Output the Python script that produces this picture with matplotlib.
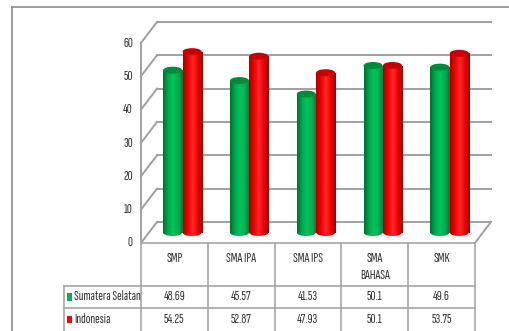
import numpy as np
import matplotlib
matplotlib.use('Agg')
import matplotlib.pyplot as plt
from matplotlib.patches import Rectangle, Ellipse
from matplotlib.colors import LinearSegmentedColormap

plt.rcParams['font.family'] = ['Sofia Sans Extra Condensed', 'Roboto Condensed', 'DejaVu Sans']

# data
categories = ['SMP', 'SMA IPA', 'SMA IPS', 'SMA\nBAHASA', 'SMK']
series_names = ['Sumatera Selatan', 'Indonesia']
sumsel = [48.69, 45.57, 41.53, 50.1, 49.6]
indonesia = [54.25, 52.87, 47.93, 50.1, 53.75]
sumsel_labels = ['48.69', '45.57', '41.53', '50.1', '49.6']
indonesia_labels = ['54.25', '52.87', '47.93', '50.1', '53.75']
y_ticks = [0, 10, 20, 30, 40, 50, 60]

colors = ['#00B050', '#FF0000']
top_colors = ['#008A3C', '#C80000']
cmaps = [
    LinearSegmentedColormap.from_list('g', ['#006E2E', '#00A84C', '#00C45C', '#00B050', '#007A34']),
    LinearSegmentedColormap.from_list('r', ['#A80000', '#F00000', '#FF2A2A', '#F00000', '#A00000']),
]

# 3d look: depth offsets (category units / value units)
ddx, ddy = 0.24, 6.3
x0, x1 = -0.5, len(categories) - 0.5
grid_col = '#A0A0A0'
txt_col = '#333333'
fs = 10
bar_w = 0.285
ell_h = 2.1

fig = plt.figure(figsize=(5.09, 3.31), dpi=100)
ax = fig.add_axes([0, 0, 1, 1])
ax.set_xlim(-2.61, 5.01)
ax.set_ylim(-26.4, 72.9)
ax.axis('off')

# outer frame of chart area
ax.plot([-2.43, 5.01], [70.8, 70.8], color='#8C8C8C', lw=1.2, clip_on=False)
ax.plot([-2.43, -2.43], [70.8, -26.4], color='#8C8C8C', lw=1.2, clip_on=False)

# walls and grid
for v in y_ticks:
    ax.plot([x0, x0 + ddx], [v, v + ddy], color=grid_col, lw=1.4, zorder=1)
    ax.plot([x0 + ddx, x1 + ddx], [v + ddy, v + ddy], color=grid_col, lw=1.4, zorder=1)
    ax.text(x0 - 0.12, v, str(v), ha='right', va='center', fontsize=fs, color=txt_col)
ax.plot([x0, x0], [0, 60], color=grid_col, lw=1.4, zorder=1)
ax.plot([x1, x1 + ddx], [0, ddy], color=grid_col, lw=1.4, zorder=1)

# cylinders
grad = np.linspace(0, 1, 64).reshape(1, -1)
for s, vals in enumerate([sumsel, indonesia]):
    for i, v in enumerate(vals):
        cx = i + ddx / 2 + (s - 0.5) * bar_w * 1.02
        base = ddy / 2
        left = cx - bar_w / 2
        ext = (left, left + bar_w, base - ell_h / 2, base + v)
        rect = Rectangle((left, base), bar_w, v, facecolor='none', edgecolor='none')
        bot = Ellipse((cx, base), bar_w, ell_h, facecolor='none', edgecolor='none')
        ax.add_patch(rect)
        ax.add_patch(bot)
        for clip in (rect, bot):
            im = ax.imshow(grad, cmap=cmaps[s], aspect='auto', extent=ext,
                           zorder=3 + s, interpolation='bilinear')
            im.set_clip_path(clip)
        ax.add_patch(Ellipse((cx, base + v), bar_w, ell_h, facecolor=top_colors[s], edgecolor='none', zorder=3 + s))

# data table
row_y = [0, -12.9, -19.5, -26.4]
leg_x = -1.65
tcol = '#A6A6A6'
for k in range(len(categories) + 1):
    ax.plot([x0 + k, x0 + k], [0, -26.4], color=tcol, lw=1.2, clip_on=False)
ax.plot([leg_x, x1], [row_y[1], row_y[1]], color=tcol, lw=1.2)
ax.plot([leg_x, x1], [row_y[2], row_y[2]], color=tcol, lw=1.2)
ax.plot([leg_x, leg_x], [row_y[1], row_y[3]], color=tcol, lw=1.2, clip_on=False)
ax.plot([x0, x1], [0, 0], color=tcol, lw=1.2)

for i, c in enumerate(categories):
    ax.text(i, -2.6, c, ha='center', va='top', fontsize=fs, color=txt_col, linespacing=1.4)

for s, labels in enumerate([sumsel_labels, indonesia_labels]):
    yc = (row_y[s + 1] + row_y[s + 2]) / 2
    ax.add_patch(Rectangle((leg_x + 0.045, yc - 1.1), 0.075, 2.2, facecolor=colors[s], edgecolor='none'))
    ax.text(leg_x + 0.15, yc, series_names[s], ha='left', va='center', fontsize=fs, color=txt_col)
    for i, lab in enumerate(labels):
        ax.text(i, yc, lab, ha='center', va='center', fontsize=fs, color=txt_col)

fig.savefig('out.png', dpi=100)
